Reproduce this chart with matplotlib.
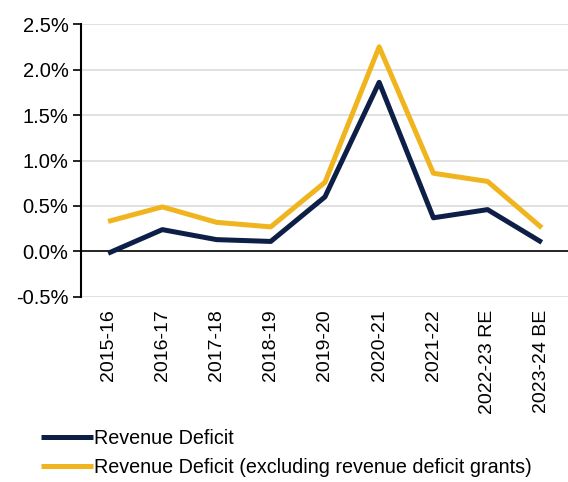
import matplotlib
matplotlib.use("Agg")
import matplotlib.pyplot as plt
from matplotlib.ticker import FuncFormatter

categories = ["2015-16", "2016-17", "2017-18", "2018-19", "2019-20",
              "2020-21", "2021-22", "2022-23 RE", "2023-24 BE"]
revenue_deficit = [-0.02, 0.24, 0.13, 0.11, 0.60, 1.86, 0.37, 0.46, 0.10]
revenue_deficit_ex_grants = [0.33, 0.49, 0.32, 0.27, 0.76, 2.25, 0.86, 0.77, 0.26]
series_labels = ["Revenue Deficit",
                 "Revenue Deficit (excluding revenue deficit grants)"]
yticks = [-0.5, 0.0, 0.5, 1.0, 1.5, 2.0, 2.5]

plt.rcParams['font.family'] = ['Liberation Sans', 'DejaVu Sans']

fig = plt.figure(figsize=(5.68, 4.82), dpi=100)
ax = fig.add_axes([0.1426, 0.384, 0.859, 0.566])

x = list(range(len(categories)))
navy = "#0e1f47"
gold = "#f0b51e"
l1, = ax.plot(x, revenue_deficit, color=navy, lw=3.6, solid_capstyle='butt', zorder=4)
l2, = ax.plot(x, revenue_deficit_ex_grants, color=gold, lw=3.6, solid_capstyle='butt', zorder=3)

ax.set_xlim(-0.5, len(categories) - 0.5)
ax.set_ylim(-0.5, 2.5)
ax.set_yticks(yticks)
ax.yaxis.set_major_formatter(FuncFormatter(lambda v, p: f"{v:.1f}%"))
for y in yticks:
    if y != 0:
        ax.axhline(y, color="#dcdcdc", lw=1.2, zorder=1)
ax.axhline(0, color="black", lw=1.2, zorder=2)

ax.set_xticks(x)
ax.set_xticklabels(categories, rotation=90, fontsize=14)
ax.tick_params(axis='x', length=0, pad=9)
ax.tick_params(axis='y', labelsize=14.5, length=6, width=1.2, direction='out', pad=3)

for s in ['top', 'right', 'bottom']:
    ax.spines[s].set_visible(False)
ax.spines['left'].set_linewidth(1.5)
ax.spines['left'].set_color('black')

fig.legend([l1, l2], series_labels, loc='upper left',
           bbox_to_anchor=(0.072, 0.110), bbox_transform=fig.transFigure,
           frameon=False, fontsize=14.2, handlelength=2.65, handletextpad=0.05,
           labelspacing=0.5, borderaxespad=0, borderpad=0)

fig.savefig("out.png", dpi=100)
